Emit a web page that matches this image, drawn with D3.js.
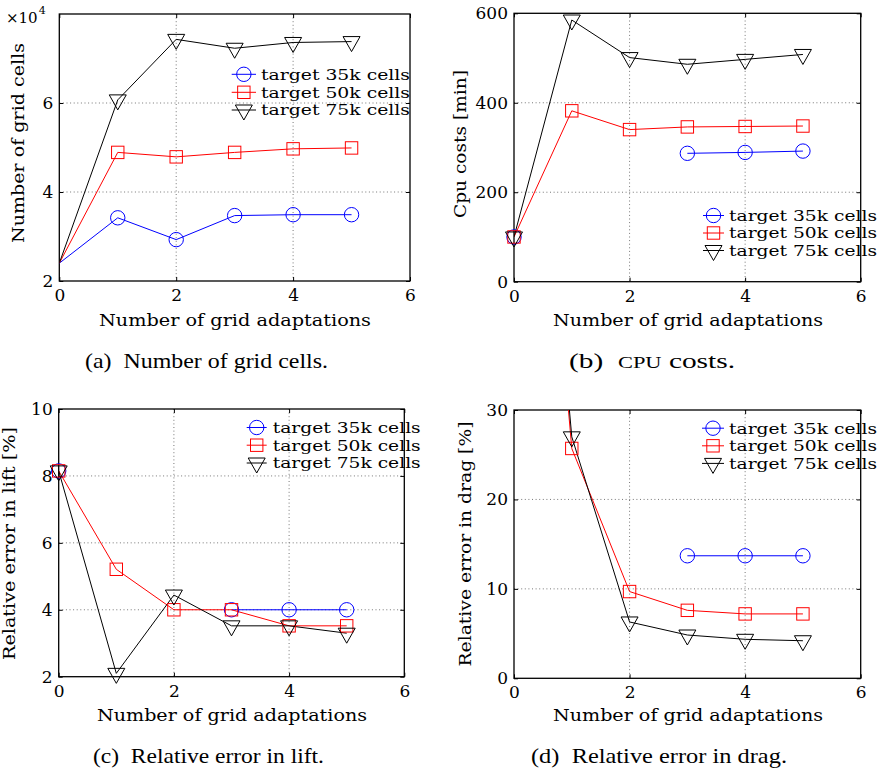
<!DOCTYPE html>
<html>
<head>
<meta charset="utf-8">
<script src="https://cdn.jsdelivr.net/npm/d3@7/dist/d3.min.js"></script>
<style>
  html, body { margin: 0; padding: 0; background: #fff; }
  svg { display: block; }
  text { font-family: "DejaVu Serif", "Liberation Serif", serif; fill: #000; }
  text.caption { font-family: "Liberation Serif", "Times New Roman", serif; }
</style>
</head>
<body>
<svg id="fig" width="879" height="772"></svg>
<script>
// ---- data ----------------------------------------------------------
const adaptations = [0, 1, 2, 3, 4, 5];
const seriesNames = ["target 35k cells", "target 50k cells", "target 75k cells"];
const seriesColors = ["#0000ff", "#ff0000", "#000000"];
const seriesMarkers = ["circle", "square", "triangle"];
const xTicks = [0, 2, 4, 6];

// (a) number of grid cells, in units of 10^4
const cells35k = [2.4, 3.42, 2.93, 3.47, 3.49, 3.49];
const cells50k = [2.4, 4.89, 4.79, 4.89, 4.97, 4.99];
const cells75k = [2.4, 6.07, 7.43, 7.23, 7.36, 7.38];
const cellsTicks = [2, 4, 6];

// (b) CPU costs [min]
const cpu35k = [100, null, null, 287, 289, 292];
const cpu50k = [100, 382, 340, 346, 347, 348];
const cpu75k = [100, 585, 501, 486, 497, 508];
const cpuTicks = [0, 200, 400, 600];

// (c) relative error in lift [%]
const lift35k = [8.15, null, null, 4.0, 4.0, 4.0];
const lift50k = [8.15, 5.21, 4.0, 4.0, 3.52, 3.52];
const lift75k = [8.15, 2.1, 4.44, 3.52, 3.52, 3.3];
const liftTicks = [2, 4, 6, 8, 10];

// (d) relative error in drag [%]
const drag35k = [100, null, null, 13.7, 13.7, 13.7];
const drag50k = [100, 25.7, 9.7, 7.6, 7.2, 7.2];
const drag75k = [100, 27.0, 6.3, 4.84, 4.36, 4.2];
const dragTicks = [0, 10, 20, 30];

// ---- drawing --------------------------------------------------------
const svg = d3.select("#fig");
const FONT = '"DejaVu Serif", "Liberation Serif", serif';

function drawMarker(g, shape, cx, cy, color) {
  if (shape === "circle") {
    g.append("circle").attr("cx", cx).attr("cy", cy).attr("r", 7.2)
      .attr("fill", "none").attr("stroke", color).attr("stroke-width", 1);
  } else if (shape === "square") {
    g.append("rect").attr("x", cx - 6.2).attr("y", cy - 6.2)
      .attr("width", 12.4).attr("height", 12.4)
      .attr("fill", "none").attr("stroke", color).attr("stroke-width", 1);
  } else {
    // downward triangle, centroid on the data point
    const hw = 8.5, h = 15;
    const pts = [[cx - hw, cy - h / 3], [cx + hw, cy - h / 3], [cx, cy + 2 * h / 3]];
    g.append("path").attr("d", "M" + pts.map(p => p.join(",")).join("L") + "Z")
      .attr("fill", "none").attr("stroke", color).attr("stroke-width", 1);
  }
}

function drawPanel(cfg, idx) {
  const x = d3.scaleLinear().domain([0, 6]).range([cfg.left, cfg.right]);
  const y = d3.scaleLinear().domain(cfg.yDomain).range([cfg.bottom, cfg.top]);
  const g = svg.append("g");

  const clipId = "clip" + idx;
  svg.append("clipPath").attr("id", clipId).append("rect")
    .attr("x", cfg.left).attr("y", cfg.top)
    .attr("width", cfg.right - cfg.left).attr("height", cfg.bottom - cfg.top);

  // dotted grid at interior ticks
  const grid = g.append("g").attr("stroke", "#777").attr("stroke-width", 1)
    .attr("stroke-dasharray", "1,2.6");
  xTicks.filter(t => t > 0 && t < 6).forEach(t => {
    grid.append("line").attr("x1", x(t)).attr("x2", x(t))
      .attr("y1", cfg.top).attr("y2", cfg.bottom);
  });
  cfg.yTicks.filter(t => t > cfg.yDomain[0] && t < cfg.yDomain[1]).forEach(t => {
    grid.append("line").attr("x1", cfg.left).attr("x2", cfg.right)
      .attr("y1", y(t)).attr("y2", y(t));
  });

  // axes (ticks point inward)
  const fs = 17;
  const fmt = d3.format("d");
  const bottomAxis = g.append("g").attr("transform", `translate(0,${cfg.bottom})`)
    .call(d3.axisBottom(x).tickValues(xTicks).tickFormat(fmt)
      .tickSizeInner(-4).tickSizeOuter(0).tickPadding(8));
  const leftAxis = g.append("g").attr("transform", `translate(${cfg.left},0)`)
    .call(d3.axisLeft(y).tickValues(cfg.yTicks).tickFormat(fmt)
      .tickSizeInner(-4).tickSizeOuter(0).tickPadding(6));
  const topAxis = g.append("g").attr("transform", `translate(0,${cfg.top})`)
    .call(d3.axisTop(x).tickValues(xTicks).tickSizeInner(-4).tickSizeOuter(0).tickFormat(""));
  const rightAxis = g.append("g").attr("transform", `translate(${cfg.right},0)`)
    .call(d3.axisRight(y).tickValues(cfg.yTicks).tickSizeInner(-4).tickSizeOuter(0).tickFormat(""));
  [bottomAxis, leftAxis, topAxis, rightAxis].forEach(a => {
    a.attr("font-family", FONT).attr("font-size", fs);
    a.select(".domain").remove();
    a.selectAll("line").attr("stroke", "#000");
    a.selectAll("text").attr("fill", "#000");
  });

  // frame
  g.append("rect").attr("x", cfg.left).attr("y", cfg.top)
    .attr("width", cfg.right - cfg.left).attr("height", cfg.bottom - cfg.top)
    .attr("fill", "none").attr("stroke", "#000").attr("stroke-width", 1.3);

  // series lines
  const line = d3.line()
    .defined(d => d[1] !== null)
    .x(d => x(d[0])).y(d => y(d[1]));
  cfg.series.forEach((vals, i) => {
    const pts = adaptations.map((a, k) => [a, vals[k]]);
    g.append("path").attr("d", line(pts)).attr("clip-path", `url(#${clipId})`)
      .attr("fill", "none").attr("stroke", seriesColors[i]).attr("stroke-width", 1);
  });
  // series markers (only those inside the y range)
  cfg.series.forEach((vals, i) => {
    adaptations.forEach((a, k) => {
      const v = vals[k];
      if (k < cfg.firstMarker) return;
      if (v === null || v > cfg.yDomain[1] || v < cfg.yDomain[0]) return;
      drawMarker(g, seriesMarkers[i], x(a), y(v), seriesColors[i]);
    });
  });

  // axis titles
  g.append("text").attr("x", cfg.xLabel[0]).attr("y", cfg.xLabel[1])
    .attr("text-anchor", "middle").attr("font-size", fs).attr("dy", "0.35em")
    .attr("textLength", cfg.xLabel[2]).attr("lengthAdjust", "spacingAndGlyphs")
    .text("Number of grid adaptations");
  g.append("text")
    .attr("transform", `translate(${cfg.yLabel[0]},${cfg.yLabel[1]}) rotate(-90)`)
    .attr("text-anchor", "middle").attr("font-size", fs).attr("dy", "0.35em")
    .attr("textLength", cfg.yLabel[2]).attr("lengthAdjust", "spacingAndGlyphs")
    .text(cfg.yTitle);

  // legend
  const L = cfg.legend;
  seriesNames.forEach((name, i) => {
    const ry = L.rows[i];
    g.append("line").attr("x1", L.x1).attr("x2", L.x2).attr("y1", ry).attr("y2", ry)
      .attr("stroke", seriesColors[i]).attr("stroke-width", 1);
    drawMarker(g, seriesMarkers[i], (L.x1 + L.x2) / 2, ry, seriesColors[i]);
    g.append("text").attr("x", L.tx).attr("y", ry).attr("dy", "0.36em")
      .attr("font-size", 15).attr("textLength", L.tw).attr("lengthAdjust", "spacingAndGlyphs")
      .text(name);
  });

  return g;
}

const panels = [
  {
    left: 59.3, right: 410, top: 14, bottom: 281, yDomain: [2, 8], yTicks: cellsTicks,
    series: [cells35k, cells50k, cells75k], yTitle: "Number of grid cells", firstMarker: 1,
    xLabel: [235, 320, 272], yLabel: [18, 143, 200],
    legend: { x1: 231.7, x2: 256, tx: 261, tw: 149, rows: [74.3, 92.3, 110] }
  },
  {
    left: 514, right: 860.7, top: 13.3, bottom: 281.7, yDomain: [0, 600], yTicks: cpuTicks,
    series: [cpu35k, cpu50k, cpu75k], yTitle: "Cpu costs [min]", firstMarker: 0,
    xLabel: [688, 320, 270], yLabel: [460, 144, 148],
    legend: { x1: 703, x2: 724, tx: 729, tw: 148, rows: [215.5, 233, 250.5] }
  },
  {
    left: 58.7, right: 404.3, top: 409, bottom: 676.7, yDomain: [2, 10], yTicks: liftTicks,
    series: [lift35k, lift50k, lift75k], yTitle: "Relative error in lift [%]", firstMarker: 0,
    xLabel: [232, 715, 270], yLabel: [9, 543.5, 233],
    legend: { x1: 246.7, x2: 266.7, tx: 272.7, tw: 148, rows: [427.5, 445.2, 463] }
  },
  {
    left: 514, right: 860.7, top: 410, bottom: 678.3, yDomain: [0, 30], yTicks: dragTicks,
    series: [drag35k, drag50k, drag75k], yTitle: "Relative error in drag [%]", firstMarker: 0,
    xLabel: [688, 715, 270], yLabel: [465, 544, 245],
    legend: { x1: 702, x2: 724, tx: 729, tw: 148, rows: [428.2, 445.8, 463.4] }
  }
];

panels.forEach((p, i) => drawPanel(p, i));

// exponent marker for panel (a)
const expo = svg.append("text").attr("x", 6).attr("y", 23).attr("font-size", 15);
expo.append("tspan").text("×10");
expo.append("tspan").attr("font-size", 11).attr("dy", -9).attr("dx", 1).text("4");

// sub-figure captions
function caption(x, y, w, parts) {
  const t = svg.append("text").attr("class", "caption").attr("x", x).attr("y", y)
    .attr("font-size", 21).attr("textLength", w).attr("lengthAdjust", "spacingAndGlyphs");
  parts.forEach(p => {
    const s = t.append("tspan").text(p.text);
    if (p.small) s.attr("font-size", 16);
  });
}
caption(85, 368, 243, [{ text: "(a)\u00a0 Number of grid cells." }]);
caption(569, 368, 166, [{ text: "(b)\u00a0 " }, { text: "CPU", small: true }, { text: " costs." }]);
caption(93, 763, 231, [{ text: "(c)\u00a0 Relative error in lift." }]);
caption(531, 763, 256, [{ text: "(d)\u00a0 Relative error in drag." }]);
</script>
</body>
</html>
